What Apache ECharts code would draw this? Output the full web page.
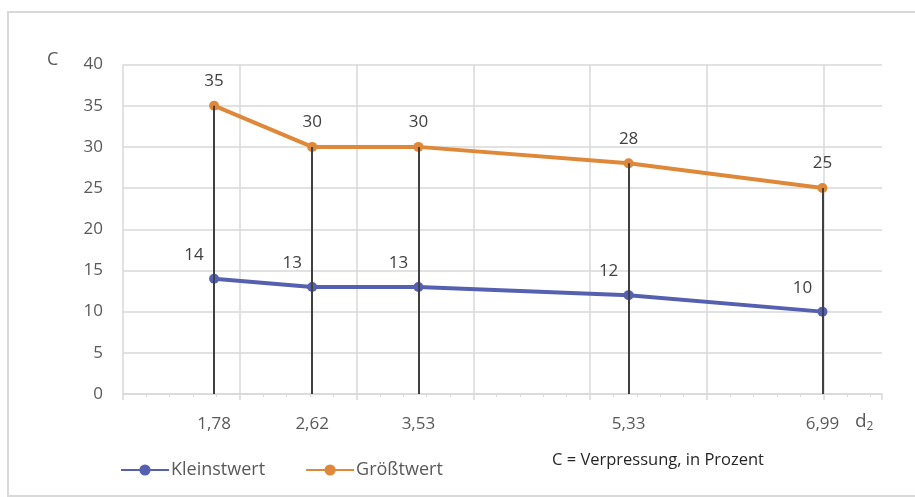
<!DOCTYPE html>
<html>
<head>
<meta charset="utf-8">
<script src="https://cdn.jsdelivr.net/npm/echarts@6/dist/echarts.min.js"></script>
<style>
  html, body { margin: 0; padding: 0; background: #fff; }
  #chart { width: 915px; height: 497px; }
</style>
</head>
<body>
<div id="chart"></div>
<script>
// d2 positions (x values) and compression C in percent
const d2Values = [1.78, 2.62, 3.53, 5.33, 6.99];
const kleinstwert = [14, 13, 13, 12, 10];
const groesstwert = [35, 30, 30, 28, 25];
const seriesNames = ['Kleinstwert', 'Größtwert'];
const yTicks = { min: 0, max: 40, step: 5 };
const xRange = { min: 1, max: 7.5, step: 1 };

const FONT = '"Open Sans", "Noto Sans", sans-serif';
const BLUE = '#5560b0';
const ORANGE = '#e0883a';
const GRID = '#d9d9d9';
const TEXT = '#595959';

const pairs = vals => d2Values.map((x, i) => [x, vals[i]]);
const fmt = v => v.toFixed(2).replace('.', ',');

const chart = echarts.init(document.getElementById('chart'), null, { renderer: 'canvas' });

chart.setOption({
  animation: false,
  backgroundColor: '#fff',
  grid: { left: 123, right: 33, top: 64.5, bottom: 103, containLabel: false },
  xAxis: {
    type: 'value',
    min: xRange.min,
    max: xRange.max,
    interval: xRange.step,
    axisLine: { show: true, lineStyle: { color: GRID, width: 1.5 } },
    axisTick: { show: true, length: 6, lineStyle: { color: GRID, width: 1.5 } },
    minorTick: { show: true, splitNumber: 5, length: 3, lineStyle: { color: GRID } },
    splitLine: { show: true, showMaxLine: false, lineStyle: { color: GRID, width: 1.5 } },
    axisLabel: {
      show: true,
      customValues: d2Values,
      formatter: v => fmt(v),
      margin: 22,
      fontFamily: FONT,
      fontSize: 17,
      color: TEXT
    }
  },
  yAxis: {
    type: 'value',
    min: yTicks.min,
    max: yTicks.max,
    interval: yTicks.step,
    axisLine: { show: false },
    axisTick: { show: false },
    splitLine: { show: true, lineStyle: { color: GRID, width: 1.5 } },
    axisLabel: { margin: 20, fontFamily: FONT, fontSize: 17, color: TEXT }
  },
  legend: {
    data: seriesNames,
    left: 115,
    top: 456,
    itemWidth: 48,
    itemHeight: 14,
    itemGap: 40,
    textStyle: { fontFamily: FONT, fontSize: 18, color: TEXT, padding: [0, 0, 0, -3] }
  },
  graphic: [
    {
      type: 'rect',
      shape: { x: 8, y: 12, width: 930, height: 484 },
      style: { fill: 'none', stroke: GRID, lineWidth: 2 },
      silent: true, z: -1
    },
    {
      type: 'text', left: 47, top: 51,
      style: { text: 'C', fontFamily: FONT, fontSize: 18, fill: TEXT }
    },
    {
      type: 'text', left: 855, top: 412,
      style: {
        text: '{d|d}{s|2}',
        rich: {
          d: { fontFamily: FONT, fontSize: 19, fill: TEXT },
          s: { fontFamily: FONT, fontSize: 12, fill: TEXT, padding: [11, 0, 0, 0] }
        }
      }
    },
    {
      type: 'text', left: 552, top: 452,
      style: { text: 'C = Verpressung, in Prozent', fontFamily: FONT, fontSize: 16.5, fill: '#262626' }
    }
  ],
  series: [
    {
      // drop lines from each maximum value down to the x axis
      name: 'drop',
      type: 'line',
      data: [],
      z: 1,
      silent: true,
      markLine: {
        silent: true,
        symbol: 'none',
        label: { show: false },
        lineStyle: { color: '#404040', width: 2, type: 'solid' },
        data: d2Values.map((x, i) => [{ coord: [x, 0] }, { coord: [x, groesstwert[i]] }])
      }
    },
    {
      name: seriesNames[0],
      type: 'line',
      z: 3,
      data: pairs(kleinstwert),
      symbol: 'circle',
      symbolSize: 10,
      lineStyle: { color: BLUE, width: 4 },
      itemStyle: { color: BLUE },
      label: {
        show: true,
        position: 'top',
        offset: [-20, -5],
        fontFamily: FONT,
        fontSize: 17,
        color: '#404040'
      }
    },
    {
      name: seriesNames[1],
      type: 'line',
      z: 3,
      data: pairs(groesstwert),
      symbol: 'circle',
      symbolSize: 10,
      lineStyle: { color: ORANGE, width: 4 },
      itemStyle: { color: ORANGE },
      label: {
        show: true,
        position: 'top',
        distance: 11,
        fontFamily: FONT,
        fontSize: 17,
        color: '#404040'
      }
    }
  ]
});
</script>
</body>
</html>
